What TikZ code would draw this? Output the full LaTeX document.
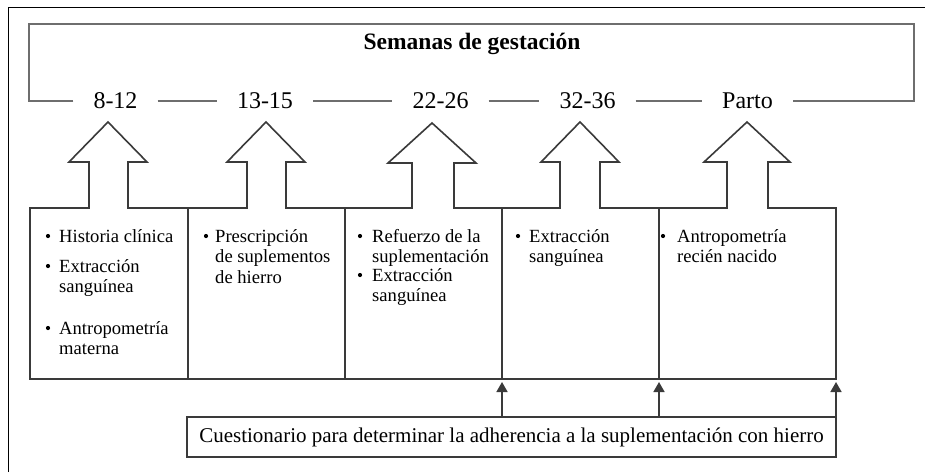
\documentclass[tikz,border=0pt]{standalone}
\usepackage{fontspec}
\setmainfont{Liberation Serif}
\usetikzlibrary{arrows.meta}
\definecolor{brk}{HTML}{6E6E6E}
\definecolor{boxc}{HTML}{3A3A3A}
\begin{document}
\begin{tikzpicture}[x=1pt,y=-1pt,
  bracket/.style={draw=brk,line width=2.4pt},
  boxline/.style={draw=boxc,line width=1.6pt,line join=miter},
  conn/.style={boxline,-{Triangle[length=10pt,width=11pt]}},
  weeklbl/.style={inner xsep=20pt,inner ysep=2pt,font=\fontsize{24}{26}\selectfont},
  itemtxt/.style={anchor=north west,inner sep=0pt,align=left,font=\fontsize{18.6}{20.5}\selectfont},
  bul/.style={fill=black},
  qbox/.style={draw=boxc,line width=1.6pt,minimum width=649pt,minimum height=40pt,inner sep=0pt,font=\fontsize{21}{23}\selectfont},
]
\useasboundingbox (0,0) rectangle (925,472);
\fill[white] (0,0) rectangle (925,472);
% outer frame
\draw[black,line width=1pt] (8,472) -- (8,7) -- (925,7);

% title
\node[font=\bfseries\fontsize{23.5}{26}\selectfont] (title) at (472,44) {Semanas de gestación};

% week labels
\node[weeklbl] (l1) at (115.5,101) {8-12};
\node[weeklbl] (l2) at (265,101) {13-15};
\node[weeklbl] (l3) at (440.5,101) {22-26};
\node[weeklbl] (l4) at (587.5,101) {32-36};
\node[weeklbl] (l5) at (747.5,101) {Parto};
\coordinate (tl) at (29,24);
\coordinate (tr) at (914,24);
\draw[bracket] (l1.west) -| (tl) -- (tr) |- (l5.east);
\draw[bracket] (l1.east) -- (l2.west);
\draw[bracket] (l2.east) -- (l3.west);
\draw[bracket] (l3.east) -- (l4.west);
\draw[bracket] (l4.east) -- (l5.west);

% box with block arrows
\draw[boxline] (30,379) -- (30,208)
  -- (89,208) -- (89,162) -- (69,162) -- (108,122) -- (147,162) -- (128,162) -- (128,208)
  -- (247,208) -- (247,162) -- (227,162) -- (266,122) -- (305,162) -- (286,162) -- (286,208)
  -- (412,208) -- (412,163) -- (388,163) -- (432,123) -- (476,163) -- (454,163) -- (454,208)
  -- (560,208) -- (560,162) -- (541,162) -- (580,122) -- (619,162) -- (600,162) -- (600,208)
  -- (727,208) -- (727,162) -- (704,162) -- (747,122) -- (790,162) -- (768,162) -- (768,208)
  -- (836,208) -- (836,379) -- cycle;
\foreach \xx in {188,345,502,659} \draw[boxline] (\xx,208) -- (\xx,379);

% column texts
\node[itemtxt] (c1a) at (59,227) {\rule{0pt}{15pt}Historia clínica};
\node[itemtxt] (c1b) at (59,257) {\rule{0pt}{15pt}Extracción\\sanguínea};
\node[itemtxt] (c1c) at (59,319) {\rule{0pt}{15pt}Antropometría\\materna};
\node[itemtxt] (c2a) at (215,227) {\rule{0pt}{15pt}Prescripción\\de suplementos\\de hierro};
\node[itemtxt] (c3a) at (372,227) {\rule{0pt}{15pt}Refuerzo de la\\suplementación};
\node[itemtxt] (c3b) at (372,266) {\rule{0pt}{15pt}Extracción\\sanguínea};
\node[itemtxt] (c4a) at (529,227) {\rule{0pt}{15pt}Extracción\\sanguínea};
\node[itemtxt] (c5a) at (677,227) {\rule{0pt}{15pt}Antropometría\\recién nacido};
\foreach \n/\d in {c1a/11,c1b/11,c1c/11,c2a/9,c3a/12,c3b/12,c4a/11,c5a/14}
  \fill[bul] ([shift={(-\d,9)}]\n.north west) circle (2.1);

% questionnaire
\node[qbox] (q) at (511.5,437) {Cuestionario para determinar la adherencia a la suplementación con hierro};
\coordinate (b1) at (502,382);
\coordinate (b2) at (659,382);
\coordinate (b3) at (836,382);
\draw[conn] (q.north -| b1) -- (b1);
\draw[conn] (q.north -| b2) -- (b2);
\draw[conn] (q.north -| b3) -- (b3);
\end{tikzpicture}
\end{document}
